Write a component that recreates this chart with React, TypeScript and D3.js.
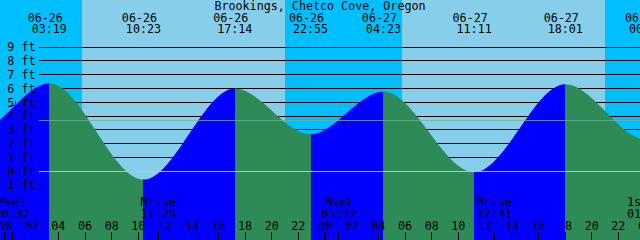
import React from "react";
import * as d3 from "d3";

const W = 640;
const H = 240;
const parse = (s: string) => d3.utcParse("%Y-%m-%d %H:%M")("2024-" + s) as Date;

const title = "Brookings, Chetco Cove, Oregon";
const rangeStart = "06-25 23:37";
const rangeHours = 48;

const tideTimes = ["06-25 16:10", "06-25 22:00", "06-26 03:19", "06-26 10:23", "06-26 17:14", "06-26 22:55", "06-27 04:23", "06-27 11:11", "06-27 18:01", "06-28 00:07", "06-28 05:40"];
const tideHeights = [6.0, 3.0, 6.37, -0.6, 6.0, 2.68, 5.77, -0.07, 6.31, 2.3, 5.7];

const moonTimes = ["06-26 00:32", "06-26 11:29", "06-27 01:02", "06-27 12:41", "06-27 23:58"];
const moonNames = ["Mset", "Mrise", "Mset", "Mrise", "1st Q"];
const moonClock = ["00:32", "11:29", "01:02", "12:41", "01:00"];

const sunriseTimes = ["06-26 05:46", "06-27 05:47"];
const sunsetTimes = ["06-26 21:00", "06-27 21:00"];

const footLevels = [-1, 0, 1, 2, 3, 4, 5, 6, 7, 8, 9];
const meanSeaLevel = 3.69;
const markTime = "06-26 00:45";
const markHeight = 4.75;

const DAY = "#87CEEB";
const NIGHT = "#00BFFF";
const RISE = "#0000FF";
const FALL = "#2E8B57";
const FONT = "'DejaVu Sans Mono', monospace";
const FS = 11.7;

export default function App() {
  const t0 = parse(rangeStart);
  const t0s = new Date(t0.getTime() + 30 * 1000);
  const t1 = d3.utcHour.offset(t0s, rangeHours);
  const x = d3.scaleUtc().domain([t0s, t1]).range([0, W]);
  const y = d3.scaleLinear().domain([0, 9]).range([171.3, 47]);

  const tides = tideTimes.map((s, i) => ({ t: parse(s), h: tideHeights[i] }));
  const area = d3
    .area<{ t: Date; h: number }>()
    .x((d) => x(d.t))
    .y0(H)
    .y1((d) => y(d.h))
    .curve(d3.curveMonotoneX);

  const nightSpans: [Date, Date][] = [
    [t0s, parse(sunriseTimes[0])],
    [parse(sunsetTimes[0]), parse(sunriseTimes[1])],
    [parse(sunsetTimes[1]), t1],
  ];

  const hourTicks = d3.utcHour.every(2)!.range(t0s, d3.utcHour.offset(t1, 2));
  const fmtDate = d3.utcFormat("%m-%d");
  const fmtTime = d3.utcFormat("%H:%M");
  const fmtHour = d3.utcFormat("%H");
  const px = (v: number) => Math.round(v);

  return (
    <svg width={W} height={H} style={{ position: "absolute", left: 0, top: 0, display: "block" }} fontFamily={FONT} fontSize={FS}>
      <defs>
        <clipPath id="water">
          <path d={area(tides) || ""} />
        </clipPath>
      </defs>
      <rect x={0} y={0} width={W} height={H} fill={DAY} />
      {nightSpans.map(([a, b], i) => (
        <rect key={i} x={px(x(a))} y={0} width={px(x(b)) - px(x(a))} height={H} fill={NIGHT} />
      ))}
      {footLevels.map((f) => (
        <line key={f} x1={39} x2={W} y1={Math.floor(y(f)) + 0.5} y2={Math.floor(y(f)) + 0.5} stroke="#000" strokeWidth={1} />
      ))}
      <g clipPath="url(#water)">
        {tides.slice(0, -1).map((d, i) => {
          const n = tides[i + 1];
          const a = px(x(d.t));
          const b = px(x(n.t));
          return <rect key={i} x={a} y={0} width={b - a} height={H} fill={n.h > d.h ? RISE : FALL} />;
        })}
      </g>
      <line x1={39} x2={W} y1={Math.floor(y(0)) + 0.5} y2={Math.floor(y(0)) + 0.5} stroke="#8fd3ea" strokeWidth={1} />
      <line x1={39} x2={W} y1={Math.floor(y(meanSeaLevel)) + 0.5} y2={Math.floor(y(meanSeaLevel)) + 0.5} stroke="rgb(112,176,150)" strokeOpacity={0.75} strokeWidth={1} />
      {footLevels.map((f) => (
        <text key={f} x={35.5} y={y(f) + 4.3} textAnchor="end" fill="#000">
          {`${f} ft`}
        </text>
      ))}
      <g stroke="#000" strokeWidth={1}>
        <line x1={x(parse(markTime)) - 5} x2={x(parse(markTime)) + 5} y1={Math.floor(y(markHeight)) + 0.5} y2={Math.floor(y(markHeight)) + 0.5} />
        <line x1={Math.floor(x(parse(markTime))) + 0.5} x2={Math.floor(x(parse(markTime))) + 0.5} y1={y(markHeight) - 4.5} y2={y(markHeight) + 4.5} />
      </g>
      <text x={W / 2} y={10} textAnchor="middle" fill="#000">
        {title}
      </text>
      {tides
        .filter((d) => x(d.t) >= 0 && x(d.t) <= W + 40)
        .map((d, i) => (
          <g key={i} fill="#000" textAnchor="middle">
            <text x={x(d.t) - 4} y={21.5}>
              {fmtDate(d.t)}
            </text>
            <text x={x(d.t)} y={33.3}>
              {fmtTime(d.t)}
            </text>
          </g>
        ))}
      {moonTimes.map((s, i) => {
        const mx = x(parse(s));
        return (
          <g key={i} fill="#000" textAnchor="middle">
            <text x={mx} y={205.5}>
              {moonNames[i]}
            </text>
            <text x={mx} y={217.8}>
              {moonClock[i]}
            </text>
            <rect x={Math.floor(mx)} y={232} width={1} height={8} fill="#000" />
          </g>
        );
      })}
      {hourTicks.map((t, i) => {
        const tx = x(t);
        const midnight = t.getUTCHours() === 0;
        return (
          <g key={i}>
            <text x={tx} y={229.5} textAnchor="middle" fill="#000">
              {fmtHour(t)}
            </text>
            <rect x={midnight ? px(tx) - 1 : Math.floor(tx)} y={232} width={midnight ? 2 : 1} height={8} fill="#000" />
          </g>
        );
      })}
    </svg>
  );
}
